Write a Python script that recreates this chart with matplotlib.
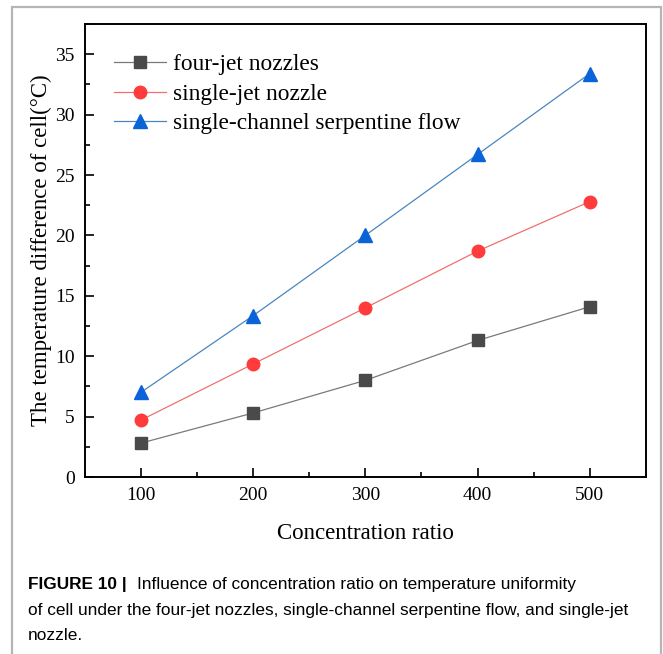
import numpy as np
import matplotlib
matplotlib.use("Agg")
import matplotlib.pyplot as plt
from matplotlib.patches import Rectangle
from matplotlib.ticker import MultipleLocator

# Data
ratio = [100, 200, 300, 400, 500]
four_jet = [2.8, 5.3, 8.0, 11.3, 14.1]
single_jet = [4.7, 9.35, 14.0, 18.7, 22.8]
serpentine = [7.0, 13.35, 20.0, 26.7, 33.4]

labels = ["four-jet nozzles", "single-jet nozzle", "single-channel serpentine flow"]

plt.rcParams['font.family'] = ['Liberation Serif', 'DejaVu Serif']

fig = plt.figure(figsize=(6.63, 6.54), dpi=100)

# outer frame around figure + caption
fig.patches.append(Rectangle((12 / 663, -0.01), 649 / 663, 1 - 7 / 654 + 0.01,
                             transform=fig.transFigure, fill=False,
                             edgecolor="#b5b5b5", linewidth=1.6))

ax = fig.add_axes([84.6 / 663, 1 - 477 / 654, (646 - 84.6) / 663, (477 - 24) / 654])

ax.plot(ratio, four_jet, color="#7a7a7a", lw=0.9, marker="s", ms=8,
        mfc="#4a4a4a", mec="#4a4a4a", label=labels[0])
ax.plot(ratio, single_jet, color="#f07070", lw=0.9, marker="o", ms=9,
        mfc="#ff3b3b", mec="#ff3b3b", label=labels[1])
ax.plot(ratio, serpentine, color="#4a86c0", lw=0.9, marker="^", ms=10,
        mfc="#0a64d8", mec="#0a64d8", label=labels[2])

ax.set_xlim(50, 550)
ax.set_ylim(0, 37.5)
ax.set_xticks(ratio)
ax.set_yticks(np.arange(0, 36, 5))
ax.xaxis.set_minor_locator(MultipleLocator(50))
ax.yaxis.set_minor_locator(MultipleLocator(2.5))
ax.tick_params(which="major", direction="in", length=6.5, width=1.2, labelsize=14, pad=7)
ax.tick_params(which="minor", direction="in", length=3.5, width=1.2)
ax.tick_params(top=False, right=False, which="both")
for s in ax.spines.values():
    s.set_linewidth(1.4)

ax.set_xlabel("Concentration ratio", fontsize=16.5, labelpad=14)
ax.set_ylabel("The temperature difference of cell(\u00b0C)", fontsize=16.5, labelpad=2)

ax.legend(loc="upper left", bbox_to_anchor=(0.052, 0.934), frameon=False, fontsize=16.8,
          handlelength=2.25, handletextpad=0.3, labelspacing=0.35,
          borderpad=0, borderaxespad=0)

# caption
cap_font = ['Liberation Sans', 'DejaVu Sans']
fig.text(28 / 663, 1 - 585 / 654, "FIGURE 10 |", family=cap_font, fontsize=12.4,
         fontweight="bold", va="center")
fig.text(137 / 663, 1 - 585 / 654,
         "Influence of concentration ratio on temperature uniformity",
         family=cap_font, fontsize=12.4, va="center")
fig.text(28 / 663, 1 - 610 / 654,
         "of cell under the four-jet nozzles, single-channel serpentine flow, and single-jet",
         family=cap_font, fontsize=12.4, va="center")
fig.text(28 / 663, 1 - 635 / 654, "nozzle.", family=cap_font, fontsize=12.4, va="center")

fig.savefig("out.png", dpi=100)
